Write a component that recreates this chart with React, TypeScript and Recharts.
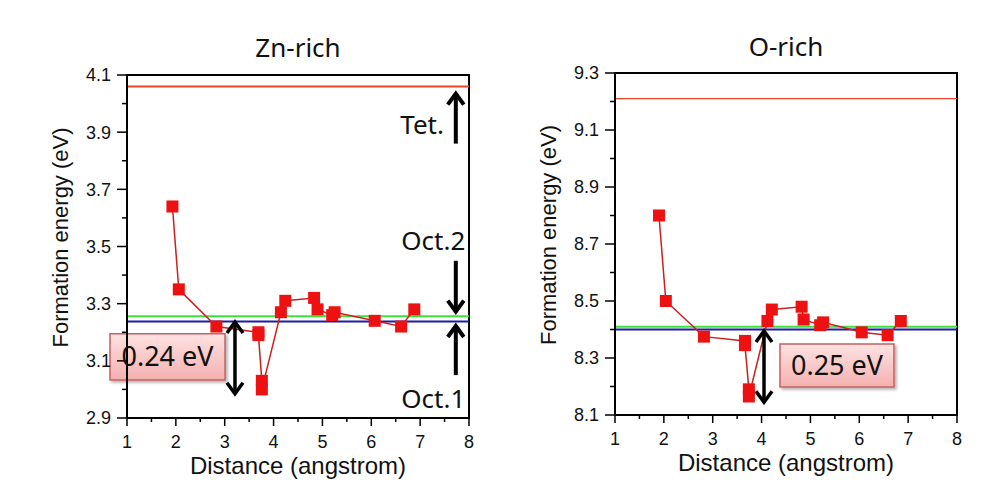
import React from 'react';
import { LineChart, Line, XAxis, YAxis, ReferenceLine, ReferenceArea, ReferenceDot, Label } from 'recharts';

// ---------- data ----------
const xTicks = [1, 1.5, 2, 2.5, 3, 3.5, 4, 4.5, 5, 5.5, 6, 6.5, 7, 7.5, 8];
const znTicks = [2.9, 3.0, 3.1, 3.2, 3.3, 3.4, 3.5, 3.6, 3.7, 3.8, 3.9, 4.0, 4.1];
const oTicks = [8.1, 8.2, 8.3, 8.4, 8.5, 8.6, 8.7, 8.8, 8.9, 9.0, 9.1, 9.2, 9.3];

const znDistance = [1.93, 2.06, 2.83, 3.69, 3.69, 3.76, 3.76, 4.15, 4.24, 4.83, 4.90, 5.20, 5.25, 6.07, 6.61, 6.88];
const znEnergy = [3.64, 3.35, 3.22, 3.20, 3.19, 3.03, 3.00, 3.27, 3.31, 3.32, 3.28, 3.26, 3.27, 3.24, 3.22, 3.28];

const oDistance = [1.90, 2.04, 2.82, 3.66, 3.66, 3.74, 3.74, 4.12, 4.21, 4.82, 4.86, 5.20, 5.26, 6.05, 6.58, 6.85];
const oEnergy = [8.80, 8.50, 8.375, 8.36, 8.345, 8.19, 8.165, 8.43, 8.47, 8.48, 8.435, 8.415, 8.425, 8.39, 8.38, 8.43];

// reference levels: Tet., Oct.2, Oct.1
const znLevels = [4.06, 3.256, 3.238];
const oLevels = [9.21, 8.41, 8.40];

const titles = ['Zn-rich', 'O-rich'];
const gapLabels = ['0.24 eV', '0.25 eV'];
const siteLabels = ['Tet.', 'Oct.2', 'Oct.1'];

const znData = znDistance.map((d, i) => ({ d, e: znEnergy[i] }));
const oData = oDistance.map((d, i) => ({ d, e: oEnergy[i] }));

// ---------- styling helpers ----------
const AXIS_FONT = '"Liberation Sans", Arial, sans-serif';
const NOTE_FONT = '"Noto Sans", "Open Sans", sans-serif';

const XTick = (props: any) => {
  const { x, y, payload } = props;
  const v = payload.value as number;
  const major = Math.abs(v - Math.round(v)) < 1e-6;
  return (
    <g>
      <line x1={x} y1={y} x2={x} y2={y + (major ? 8 : 4)} stroke="#000" strokeWidth={1.5} />
      {major && (
        <text x={x} y={y + 30} textAnchor="middle" fontSize={18} fontFamily={AXIS_FONT} fill="#111">
          {String(v)}
        </text>
      )}
    </g>
  );
};

const YTick = (props: any) => {
  const { x, y, payload } = props;
  const v = payload.value as number;
  const major = Math.round(v * 10) % 2 === 1;
  return (
    <g>
      <line x1={x} y1={y} x2={x - (major ? 10 : 5)} y2={y} stroke="#000" strokeWidth={1.5} />
      {major && (
        <text x={x - 16} y={y} dy="0.36em" textAnchor="end" fontSize={18} fontFamily={AXIS_FONT} fill="#111">
          {v.toFixed(1)}
        </text>
      )}
    </g>
  );
};

const SquareDot = (props: any) => {
  const { cx, cy } = props;
  if (cx == null || cy == null) return null;
  return <rect x={cx - 6} y={cy - 6} width={12} height={12} fill="#ee1111" />;
};

const makeArrow = (double: boolean, sw: number, hl: number, hw: number) => (props: any) => {
  const { x1, y1, x2, y2 } = props;
  const dx = x2 - x1;
  const dy = y2 - y1;
  const len = Math.hypot(dx, dy) || 1;
  const ux = dx / len;
  const uy = dy / len;
  const head = (px: number, py: number, vx: number, vy: number) =>
    `M ${px - vx * hl - vy * hw} ${py - vy * hl + vx * hw} L ${px} ${py} L ${px - vx * hl + vy * hw} ${py - vy * hl - vx * hw}`;
  return (
    <g>
      <line x1={x1} y1={y1} x2={x2} y2={y2} stroke="#000" strokeWidth={sw} />
      <path d={head(x2, y2, ux, uy)} fill="none" stroke="#000" strokeWidth={sw} strokeLinejoin="miter" />
      {double && <path d={head(x1, y1, -ux, -uy)} fill="none" stroke="#000" strokeWidth={sw} strokeLinejoin="miter" />}
    </g>
  );
};

const singleArrow = makeArrow(false, 4, 11, 8);
const doubleArrow = makeArrow(true, 3.5, 11, 8);

const yLabel = (p: any) => {
  const vb = p.viewBox || { x: 0, y: 0, width: 0, height: 0 };
  const cx = vb.x + vb.width - 67;
  const cy = vb.y + vb.height / 2 - 9;
  return (
    <text
      x={cx}
      y={cy}
      transform={`rotate(-90 ${cx} ${cy})`}
      textAnchor="middle"
      dominantBaseline="central"
      fontSize={22}
      fontFamily={AXIS_FONT}
      fill="#111"
    >
      Formation energy (eV)
    </text>
  );
};

const xLabel = (p: any) => {
  const vb = p.viewBox || { x: 0, y: 0, width: 0, height: 0 };
  return (
    <text x={vb.x + vb.width / 2} y={vb.y + 56} textAnchor="middle" fontSize={24} fontFamily={AXIS_FONT} fill="#111">
      Distance (angstrom)
    </text>
  );
};

const BoxDefs = ({ id }: { id: string }) => (
  <defs>
    <linearGradient id={`${id}-g`} x1="0" y1="0" x2="0" y2="1">
      <stop offset="0%" stopColor="#fde2e2" />
      <stop offset="100%" stopColor="#f4b0b0" />
    </linearGradient>
    <filter id={`${id}-s`} x="-10%" y="-10%" width="130%" height="140%">
      <feDropShadow dx="2" dy="2" stdDeviation="1.5" floodColor="#000" floodOpacity="0.3" />
    </filter>
  </defs>
);

const noteLabel = (value: string, size: number) => ({
  value,
  position: 'center' as const,
  fontSize: size,
  fontFamily: NOTE_FONT,
  fill: '#111',
});

export default function App() {
  return (
    <div style={{ position: 'absolute', left: 0, top: 0, width: 1003, height: 494, background: '#fff', overflow: 'hidden' }}>
      {/* titles */}
      <div style={{ position: 'absolute', left: 198, width: 200, top: 30, lineHeight: '34px', textAlign: 'center', fontSize: 26, fontFamily: NOTE_FONT, color: '#111' }}>
        {titles[0]}
      </div>
      <div style={{ position: 'absolute', left: 686, width: 200, top: 29, lineHeight: '34px', textAlign: 'center', fontSize: 26, fontFamily: NOTE_FONT, color: '#111' }}>
        {titles[1]}
      </div>

      {/* Zn-rich panel */}
      <div style={{ position: 'absolute', left: 0, top: 0 }}>
        <LineChart width={500} height={494} data={znData} margin={{ top: 75, right: 31, bottom: 46, left: 67 }}>
          <BoxDefs id="zn" />
          <XAxis
            type="number"
            dataKey="d"
            domain={[1, 8]}
            ticks={xTicks}
            interval={0}
            allowDataOverflow
            height={30}
            tickSize={0}
            tickMargin={0}
            tickLine={false}
            tick={XTick}
            axisLine={{ stroke: '#000', strokeWidth: 2 }}
          >
            <Label content={xLabel} />
          </XAxis>
          <YAxis
            type="number"
            domain={[2.9, 4.1]}
            ticks={znTicks}
            interval={0}
            allowDataOverflow
            width={60}
            tickSize={0}
            tickMargin={0}
            tickLine={false}
            tick={YTick}
            axisLine={{ stroke: '#000', strokeWidth: 2 }}
          >
            <Label content={yLabel} />
          </YAxis>
          <ReferenceArea x1={1} x2={8} y1={2.9} y2={4.1} fill="none" fillOpacity={0} stroke="#000" strokeWidth={2} ifOverflow="visible" />
          <ReferenceLine y={znLevels[0]} stroke="#e8452c" strokeWidth={2} />
          <ReferenceLine y={znLevels[1]} stroke="#3ee03e" strokeWidth={2} />
          <ReferenceLine y={znLevels[2]} stroke="#1c1ca8" strokeWidth={2} />
          <Line
            dataKey="e"
            stroke="#cc1f1f"
            strokeWidth={1.5}
            dot={SquareDot}
            activeDot={false}
            isAnimationActive={false}
          />
          <ReferenceLine segment={[{ x: 7.73, y: 3.86 }, { x: 7.73, y: 4.035 }]} shape={singleArrow} />
          <ReferenceLine segment={[{ x: 7.73, y: 3.45 }, { x: 7.73, y: 3.272 }]} shape={singleArrow} />
          <ReferenceLine segment={[{ x: 7.73, y: 3.05 }, { x: 7.73, y: 3.222 }]} shape={singleArrow} />
          <ReferenceLine segment={[{ x: 3.21, y: 3.236 }, { x: 3.21, y: 2.985 }]} shape={doubleArrow} />
          <ReferenceDot x={7.04} y={3.925} r={0} fill="none" stroke="none" label={noteLabel(siteLabels[0], 26)} />
          <ReferenceDot x={7.27} y={3.52} r={0} fill="none" stroke="none" label={noteLabel(siteLabels[1], 26)} />
          <ReferenceDot x={7.27} y={2.967} r={0} fill="none" stroke="none" label={noteLabel(siteLabels[2], 26)} />
          <ReferenceArea
            x1={0.652}
            x2={3.006}
            y1={3.033}
            y2={3.195}
            ifOverflow="visible"
            fill="url(#zn-g)"
            fillOpacity={1}
            stroke="#c86060"
            strokeWidth={1.5}
            style={{ filter: 'url(#zn-s)' }}
            label={noteLabel(gapLabels[0], 27)}
          />
        </LineChart>
      </div>

      {/* O-rich panel */}
      <div style={{ position: 'absolute', left: 500, top: 0 }}>
        <LineChart width={503} height={494} data={oData} margin={{ top: 73, right: 46, bottom: 49, left: 55 }}>
          <BoxDefs id="o" />
          <XAxis
            type="number"
            dataKey="d"
            domain={[1, 8]}
            ticks={xTicks}
            interval={0}
            allowDataOverflow
            height={30}
            tickSize={0}
            tickMargin={0}
            tickLine={false}
            tick={XTick}
            axisLine={{ stroke: '#000', strokeWidth: 2 }}
          >
            <Label content={xLabel} />
          </XAxis>
          <YAxis
            type="number"
            domain={[8.1, 9.3]}
            ticks={oTicks}
            interval={0}
            allowDataOverflow
            width={60}
            tickSize={0}
            tickMargin={0}
            tickLine={false}
            tick={YTick}
            axisLine={{ stroke: '#000', strokeWidth: 2 }}
          >
            <Label content={yLabel} />
          </YAxis>
          <ReferenceArea x1={1} x2={8} y1={8.1} y2={9.3} fill="none" fillOpacity={0} stroke="#000" strokeWidth={2} ifOverflow="visible" />
          <ReferenceLine y={oLevels[0]} stroke="#e8452c" strokeWidth={1.3} />
          <ReferenceLine y={oLevels[1]} stroke="#3ee03e" strokeWidth={2} />
          <ReferenceLine y={oLevels[2]} stroke="#1c1ca8" strokeWidth={2} />
          <Line
            dataKey="e"
            stroke="#cc1f1f"
            strokeWidth={1.5}
            dot={SquareDot}
            activeDot={false}
            isAnimationActive={false}
          />
          <ReferenceLine segment={[{ x: 4.05, y: 8.395 }, { x: 4.05, y: 8.145 }]} shape={doubleArrow} />
          <ReferenceArea
            x1={4.377}
            x2={6.71}
            y1={8.198}
            y2={8.349}
            ifOverflow="visible"
            fill="url(#o-g)"
            fillOpacity={1}
            stroke="#c86060"
            strokeWidth={1.5}
            style={{ filter: 'url(#o-s)' }}
            label={noteLabel(gapLabels[1], 27)}
          />
        </LineChart>
      </div>
    </div>
  );
}
